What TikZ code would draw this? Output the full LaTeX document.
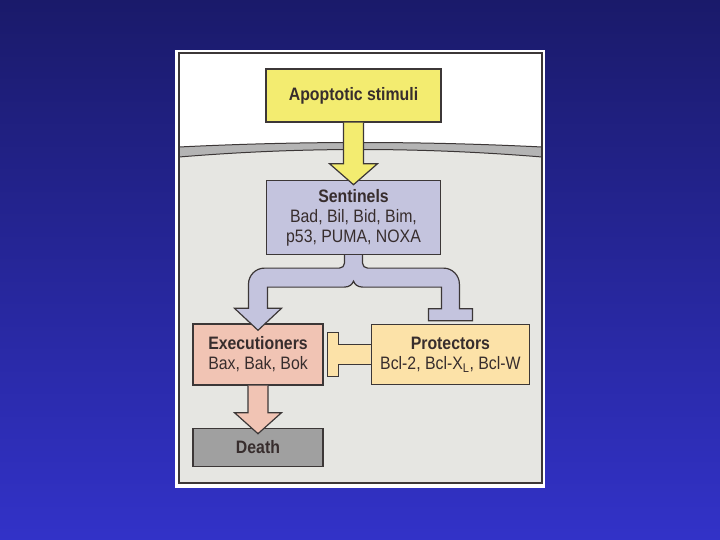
\documentclass[tikz,border=0pt]{standalone}
\usepackage{fontspec}
\setmainfont[FakeStretch=0.88]{Liberation Sans}
\usetikzlibrary{positioning,calc}

\definecolor{bgtop}{RGB}{26,26,106}
\definecolor{bgbottom}{RGB}{50,50,200}
\definecolor{cellcol}{RGB}{230,230,226}
\definecolor{membcol}{RGB}{180,180,180}
\definecolor{linecol}{RGB}{60,55,55}
\definecolor{textcol}{RGB}{55,45,45}
\definecolor{stimcol}{RGB}{243,236,112}
\definecolor{sentcol}{RGB}{196,196,222}
\definecolor{execcol}{RGB}{241,196,180}
\definecolor{protcol}{RGB}{252,226,168}
\definecolor{deathcol}{RGB}{160,160,160}

\begin{document}
\begin{tikzpicture}[
  x=1pt, y=-1pt,
  every node/.style={draw=linecol, line width=1.4pt, text=textcol, align=center,
    inner sep=0pt, font=\fontsize{18}{20}\selectfont},
  blockarrow/.style={draw=linecol, line width=1.2pt},
  ]
  \useasboundingbox (0,0) rectangle (720,540);
  \shade[top color=bgtop, bottom color=bgbottom] (0,0) rectangle (720,540);
  \fill[white] (175,50) rectangle (545,488);
  \fill[cellcol] (179,157) .. controls (300,147) and (420,147) .. (542,157)
    -- (542,483) -- (179,483) -- cycle;
  \path[draw=linecol, fill=membcol, line width=1pt]
    (179,147) .. controls (300,141) and (420,141) .. (542,147) -- (542,157)
    .. controls (420,147) and (300,147) .. (179,157) -- cycle;
  \draw[linecol, line width=1.4pt] (179,53) rectangle (542,483);

  \node[fill=stimcol, minimum width=175pt, minimum height=53pt]
    (stimuli) at (353.5,95.5) {\textbf{Apoptotic stimuli}};
  \node[fill=sentcol, minimum width=174pt, minimum height=74pt, below=57pt of stimuli]
    (sentinels) {\textbf{Sentinels}\\Bad, Bil, Bid, Bim,\\p53, PUMA, NOXA};
  \node[fill=execcol, minimum width=130pt, minimum height=61pt]
    (executioners) at (258,354.5) {\textbf{Executioners}\\Bax, Bak, Bok};
  \node[fill=protcol, minimum width=158pt, minimum height=60pt, right=47pt of executioners]
    (protectors) {\textbf{Protectors}\\Bcl-2, Bcl-X\textsubscript{L}, Bcl-W};
  \node[fill=deathcol, minimum width=130pt, minimum height=38pt, below=42pt of executioners]
    (death) {\textbf{Death}};

  \coordinate (forktop) at ($(sentinels.south)+(0,13)$);
  \coordinate (forkbot) at ($(sentinels.south)+(0,32)$);

  \path[blockarrow, fill=stimcol]
  ($(stimuli.south)+(-10,0)$) -- ($(sentinels.north)+(-10,-16)$) -- ++(-14,0)
  -- ($(sentinels.north)+(0,5)$) -- ($(sentinels.north)+(24,-16)$) -- ++(-14,0)
  -- ($(stimuli.south)+(10,0)$);
  \path[blockarrow, fill=sentcol]
  ($(sentinels.south)+(-9,0)$)
  [rounded corners=5pt] -- ($(forktop)+(-9,0)$)
  [rounded corners=16pt] -- ($(executioners.north |- forktop)+(-9.5,0)$)
  [sharp corners] -- ($(executioners.north)+(-9.5,-15)$) -- ++(-14,0)
  -- ($(executioners.north)+(0,7)$) -- ($(executioners.north)+(23.5,-15)$) -- ++(-14,0)
  -- ($(executioners.north |- forkbot)+(9.5,0)$) -- ($(forkbot)+(-9,0)$)
  .. controls ($(forkbot)+(-4,0)$) and ($(forkbot)+(-1,-3)$) .. ($(forkbot)+(0,-6)$)
  .. controls ($(forkbot)+(1,-3)$) and ($(forkbot)+(4,0)$) .. ($(forkbot)+(9,0)$)
  -- ($(protectors.north |- forkbot)+(-9,0)$) -- ($(protectors.north)+(-9,-15)$)
  -- ++(-13,0) -- ++(0,12) -- ++(44,0) -- ++(0,-12) -- ++(-13,0)
  [rounded corners=16pt] -- ($(protectors.north |- forktop)+(9,0)$)
  [rounded corners=5pt] -- ($(forktop)+(9,0)$)
  [sharp corners] -- ($(sentinels.south)+(9,0)$);
  \path[blockarrow, fill=protcol]
  ($(protectors.west)+(0,-10)$) -- ($(executioners.east |- protectors.west)+(15,-10)$)
  -- ++(0,-12) -- ++(-11,0) -- ++(0,44) -- ++(11,0) -- ++(0,-12)
  -- ($(protectors.west)+(0,10)$);
  \path[blockarrow, fill=execcol]
  ($(executioners.south)+(-10,0)$) -- ($(death.north)+(-10,-15)$) -- ++(-13.5,0)
  -- ($(death.north)+(0,6)$) -- ($(death.north)+(23.5,-15)$) -- ++(-13.5,0)
  -- ($(executioners.south)+(10,0)$);
\end{tikzpicture}
\end{document}
